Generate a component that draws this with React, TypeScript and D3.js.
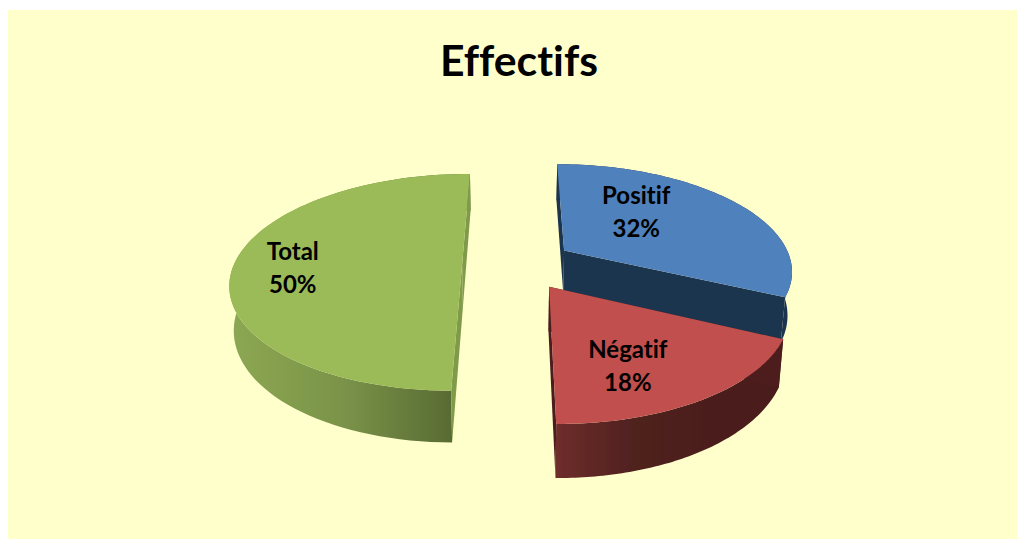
import React from "react";
import * as d3 from "d3";

const title = "Effectifs";
const categories = ["Positif", "Négatif", "Total"];
const values = [32, 18, 50];
const percentLabels = ["32%", "18%", "50%"];
// where each label sits on its slice: degrees clockwise from 12 o'clock, fraction of radius
const labelAngles = [41.6, 156, 267.2];
const labelRadii = [0.545, 0.684, 0.738];

const topColors = ["#4f81bd", "#c0504d", "#9bbb59"];
const faceColors = ["#1f344f", "#4d1f1e", "#7f9a4a"];
const wallStops = [
  ["#1f344f", "#1f344f", "#1f344f"],
  ["#6e2d2b", "#4f201f", "#4a1e1d"],
  ["#8ca752", "#7a9349", "#586a33"],
];

const W = 1017;
const H = 539;

// projection of the tilted pie
const vanishX = 510;
const centerY = 264;
const centerShift = 8;
const explode = 0.245;
const depth = 43;
const perspective = 0.17;
const bottomShrink = 0.016;
const rotation = (0.25 * Math.PI) / 180;

const planeX = d3.scaleLinear().domain([-1, 1]).range([-228, 228]);
const planeY = d3.scaleLinear().domain([-1, 1]).range([-105.3, 105.3]);

const project = (u: number, v: number, z = 0): [number, number] => {
  const s = 1 / (1 - perspective * v);
  const shrink = 1 - bottomShrink * z;
  return [
    vanishX + (centerShift + planeX(u)) * s * shrink,
    centerY + (planeY(v) + depth * z) * s,
  ];
};

const line = d3.line();

const slices = d3
  .pie<number>()
  .sort(null)
  .startAngle(rotation)
  .endAngle(rotation + 2 * Math.PI)
  .value((d) => d)(values);

const textStyle = { fontVariantLigatures: "none" } as React.CSSProperties;

export default function App() {
  return (
    <svg width={W} height={H} style={{ position: "fixed", left: 0, top: 0 }}>
      <defs>
        <filter id="soft" x="-5%" y="-5%" width="110%" height="110%">
          <feGaussianBlur stdDeviation="0.6" />
        </filter>
        {slices.map((sl, i) => {
          const mid = (sl.startAngle + sl.endAngle) / 2;
          const xs = d3.range(sl.startAngle, sl.endAngle, 0.05).map((t) => {
            return project(explode * Math.sin(mid) + Math.sin(t), -explode * Math.cos(mid) - Math.cos(t), 1)[0];
          });
          const [x0, x1] = d3.extent(xs) as [number, number];
          // the wall only shows along the front of the pie, so fit the ramp to that part
          const front = i === 2 ? [x0, project(-explode, 1, 1)[0]] : i === 1 ? [project(explode * 0.536, 1.2, 1)[0], x1] : [x0, x1];
          return (
            <linearGradient key={i} id={`wall${i}`} gradientUnits="userSpaceOnUse" x1={front[0]} x2={front[1]} y1={0} y2={0}>
              <stop offset={0} stopColor={wallStops[i][0]} />
              <stop offset={i === 1 ? 0.35 : 0.5} stopColor={wallStops[i][1]} />
              <stop offset={1} stopColor={wallStops[i][2]} />
            </linearGradient>
          );
        })}
      </defs>
      <rect x={8} y={10} width={W - 8} height={H - 10} fill="#ffffcc" />
      <text x={519} y={76} textAnchor="middle" fontFamily="Lato" fontWeight={700} fontSize={42.7} fill="#000" style={textStyle}>
        {title}
      </text>
      <g filter="url(#soft)">
        {slices.map((sl, i) => {
          const mid = (sl.startAngle + sl.endAngle) / 2;
          const ou = explode * Math.sin(mid);
          const ov = -explode * Math.cos(mid);
          const rim = (t: number, z: number) => project(ou + Math.sin(t), ov - Math.cos(t), z);
          const apex = (z: number) => project(ou, ov, z);
          const steps = d3.range(0, 81).map((k) => sl.startAngle + ((sl.endAngle - sl.startAngle) * k) / 80);
          const top = line([apex(0), ...steps.map((t) => rim(t, 0))]) + "Z";
          const wall = line([...steps.map((t) => rim(t, 0)), ...steps.slice().reverse().map((t) => rim(t, 1))]) + "Z";
          const faceA = line([apex(0), rim(sl.startAngle, 0), rim(sl.startAngle, 1), apex(1)]) + "Z";
          const faceB = line([apex(0), rim(sl.endAngle, 0), rim(sl.endAngle, 1), apex(1)]) + "Z";
          return (
            <g key={categories[i]}>
              <path d={wall} fill={`url(#wall${i})`} />
              <path d={faceA} fill={faceColors[i]} />
              <path d={faceB} fill={faceColors[i]} />
              <path d={top} fill={topColors[i]} />
            </g>
          );
        })}
      </g>
      {slices.map((sl, i) => {
        const mid = (sl.startAngle + sl.endAngle) / 2;
        const a = (labelAngles[i] * Math.PI) / 180;
        const [x, y] = project(
          explode * Math.sin(mid) + labelRadii[i] * Math.sin(a),
          -explode * Math.cos(mid) - labelRadii[i] * Math.cos(a)
        );
        return (
          <text key={categories[i]} textAnchor="middle" fontFamily="Lato" fontWeight={700} fontSize={24} fill="#000" style={textStyle}>
            <tspan x={x} y={y - 8}>{categories[i]}</tspan>
            <tspan x={x} y={y + 25}>{percentLabels[i]}</tspan>
          </text>
        );
      })}
    </svg>
  );
}
